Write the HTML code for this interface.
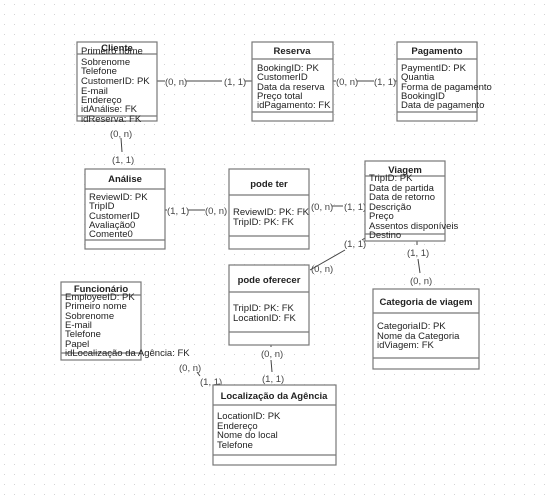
<!DOCTYPE html>
<html><head><meta charset="utf-8"><style>
html,body{margin:0;padding:0;background:#fff;}
svg{display:block;}
text{font-family:"Liberation Sans",sans-serif;font-size:9.5px;fill:#222;}
.t{font-weight:bold;font-size:9.5px;text-anchor:middle;}
.l{fill:#444;}
rect.b{fill:#fff;stroke:#777;stroke-width:1.2;}
line.d{stroke:#777;stroke-width:1.2;}
line.c{stroke:#444;stroke-width:1;}
</style></head><body>
<svg width="547" height="495" viewBox="0 0 547 495" xmlns="http://www.w3.org/2000/svg">
<defs><pattern id="g" width="10" height="10" patternUnits="userSpaceOnUse"><rect x="4" y="4" width="1" height="1" fill="#d4d4d4"/></pattern></defs>
<rect width="547" height="495" fill="url(#g)"/>

<!-- connectors -->
<line class="c" x1="157" y1="81" x2="165" y2="81"/><line class="c" x1="186" y1="81" x2="222" y2="81"/><line class="c" x1="245" y1="81" x2="252" y2="81"/>
<text class="l" x="165" y="85">(0, n)</text><text class="l" x="224" y="85">(1, 1)</text>
<line class="c" x1="333" y1="81" x2="336" y2="81"/><line class="c" x1="357" y1="81" x2="374" y2="81"/><line class="c" x1="395" y1="81" x2="397" y2="81"/>
<text class="l" x="336" y="85">(0, n)</text><text class="l" x="374" y="85">(1, 1)</text>
<line class="c" x1="121" y1="138" x2="122" y2="152"/>
<text class="l" x="110" y="137">(0, n)</text><text class="l" x="112" y="163">(1, 1)</text>
<line class="c" x1="165" y1="210" x2="167" y2="210"/><line class="c" x1="188" y1="210" x2="205" y2="210"/>
<text class="l" x="167" y="214">(1, 1)</text><text class="l" x="205" y="214">(0, n)</text>
<line class="c" x1="332" y1="206" x2="343" y2="206"/>
<text class="l" x="311" y="210">(0, n)</text><text class="l" x="344" y="210">(1, 1)</text>
<line class="c" x1="345" y1="250" x2="310" y2="270"/><line class="c" x1="365" y1="238" x2="362" y2="240"/>
<text class="l" x="344" y="247">(1, 1)</text><text class="l" x="311" y="272">(0, n)</text>
<line class="c" x1="417" y1="241" x2="417" y2="245"/><line class="c" x1="418" y1="259" x2="420" y2="273"/>
<text class="l" x="407" y="256">(1, 1)</text><text class="l" x="410" y="284">(0, n)</text>
<line class="c" x1="271" y1="345" x2="271" y2="347"/><line class="c" x1="271" y1="360" x2="272" y2="372"/>
<text class="l" x="261" y="357">(0, n)</text><text class="l" x="262" y="382">(1, 1)</text>
<line class="c" x1="197" y1="372" x2="200" y2="376"/><line class="c" x1="220" y1="384" x2="213" y2="385"/>
<text class="l" x="179" y="371">(0, n)</text><text class="l" x="200" y="385">(1, 1)</text>

<!-- Cliente -->
<rect class="b" x="77" y="42" width="80" height="79"/>
<line class="d" x1="77" y1="54" x2="157" y2="54"/><line class="d" x1="77" y1="116" x2="157" y2="116"/>
<text x="81" y="54">Primeiro nome</text>
<text class="t" x="117" y="51">Cliente</text>
<text x="81" y="65">Sobrenome</text><text x="81" y="74">Telefone</text><text x="81" y="84">CustomerID: PK</text><text x="81" y="94">E-mail</text><text x="81" y="103">Endereço</text><text x="81" y="112">idAnálise: FK</text><text x="81" y="122">idReserva: FK</text>

<!-- Reserva -->
<rect class="b" x="252" y="42" width="81" height="79"/>
<line class="d" x1="252" y1="59" x2="333" y2="59"/><line class="d" x1="252" y1="112" x2="333" y2="112"/>
<text class="t" x="292" y="54">Reserva</text>
<text x="257" y="71">BookingID: PK</text><text x="257" y="80">CustomerID</text><text x="257" y="90">Data da reserva</text><text x="257" y="99">Preço total</text><text x="257" y="108">idPagamento: FK</text>

<!-- Pagamento -->
<rect class="b" x="397" y="42" width="80" height="79"/>
<line class="d" x1="397" y1="59" x2="477" y2="59"/><line class="d" x1="397" y1="112" x2="477" y2="112"/>
<text class="t" x="437" y="54">Pagamento</text>
<text x="401" y="71">PaymentID: PK</text><text x="401" y="80">Quantia</text><text x="401" y="90">Forma de pagamento</text><text x="401" y="99">BookingID</text><text x="401" y="108">Data de pagamento</text>

<!-- Análise -->
<rect class="b" x="85" y="169" width="80" height="80"/>
<line class="d" x1="85" y1="189" x2="165" y2="189"/><line class="d" x1="85" y1="240" x2="165" y2="240"/>
<text class="t" x="125" y="182">Análise</text>
<text x="89" y="200">ReviewID: PK</text><text x="89" y="209">TripID</text><text x="89" y="219">CustomerID</text><text x="89" y="228">Avaliação0</text><text x="89" y="237">Comente0</text>

<!-- pode ter -->
<rect class="b" x="229" y="169" width="80" height="80"/>
<line class="d" x1="229" y1="195" x2="309" y2="195"/><line class="d" x1="229" y1="236" x2="309" y2="236"/>
<text class="t" x="269" y="187">pode ter</text>
<text x="233" y="215">ReviewID: PK: FK</text><text x="233" y="225">TripID: PK: FK</text>

<!-- Viagem -->
<rect class="b" x="365" y="161" width="80" height="80"/>
<line class="d" x1="365" y1="176" x2="445" y2="176"/><line class="d" x1="365" y1="234" x2="445" y2="234"/>
<text x="369" y="181">TripID: PK</text>
<text class="t" x="405" y="173">Viagem</text>
<text x="369" y="191">Data de partida</text><text x="369" y="200">Data de retorno</text><text x="369" y="210">Descrição</text><text x="369" y="219">Preço</text><text x="369" y="229">Assentos disponíveis</text><text x="369" y="238">Destino</text>

<!-- pode oferecer -->
<rect class="b" x="229" y="265" width="80" height="80"/>
<line class="d" x1="229" y1="292" x2="309" y2="292"/><line class="d" x1="229" y1="332" x2="309" y2="332"/>
<text class="t" x="269" y="283">pode oferecer</text>
<text x="233" y="311">TripID: PK: FK</text><text x="233" y="321">LocationID: FK</text>

<!-- Categoria -->
<rect class="b" x="373" y="289" width="106" height="80"/>
<line class="d" x1="373" y1="313" x2="479" y2="313"/><line class="d" x1="373" y1="358" x2="479" y2="358"/>
<text class="t" x="426" y="305">Categoria de viagem</text>
<text x="377" y="329">CategoriaID: PK</text><text x="377" y="339">Nome da Categoria</text><text x="377" y="348">idViagem: FK</text>

<!-- Funcionário -->
<rect class="b" x="61" y="282" width="80" height="78"/>
<line class="d" x1="61" y1="295" x2="141" y2="295"/><line class="d" x1="61" y1="353" x2="141" y2="353"/>
<text class="t" x="101" y="292">Funcionário</text>
<text x="65" y="300">EmployeeID: PK</text><text x="65" y="309">Primeiro nome</text><text x="65" y="319">Sobrenome</text><text x="65" y="328">E-mail</text><text x="65" y="337">Telefone</text><text x="65" y="347">Papel</text><text x="65" y="356">idLocalização da Agência: FK</text>

<!-- Localização -->
<rect class="b" x="213" y="385" width="123" height="80"/>
<line class="d" x1="213" y1="405" x2="336" y2="405"/><line class="d" x1="213" y1="455" x2="336" y2="455"/>
<text class="t" x="274" y="399">Localização da Agência</text>
<text x="217" y="419">LocationID: PK</text><text x="217" y="429">Endereço</text><text x="217" y="438">Nome do local</text><text x="217" y="448">Telefone</text>
</svg>
</body></html>
